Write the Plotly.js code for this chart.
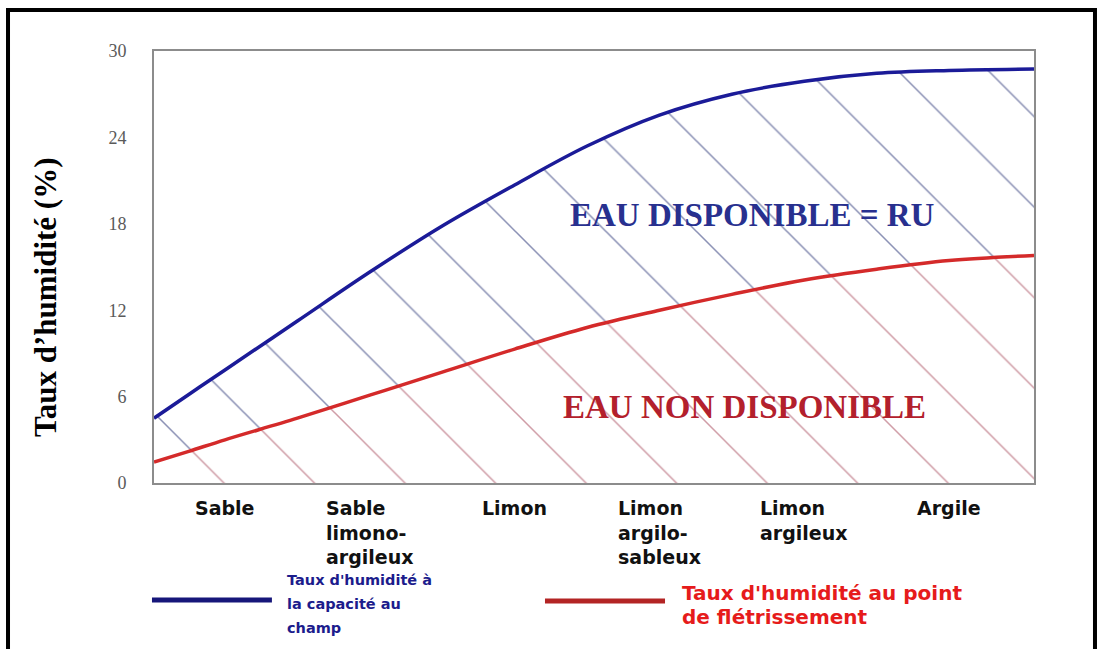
<!DOCTYPE html>
<html><head><meta charset="utf-8">
<script src="https://cdn.plot.ly/plotly-3.0.1.min.js"></script>
<style>html,body{margin:0;padding:0;background:#fff;}#chart{width:1103px;height:649px;}</style>
</head><body><div id="chart"></div>
<script>
// ---- data ----
const soilTypes = ['Sable', 'Sable<br>limono-<br>argileux', 'Limon', 'Limon<br>argilo-<br>sableux', 'Limon<br>argileux', 'Argile'];
const soilPos = [0, 1, 2, 3, 4, 5];
const xSample = [-0.49, -0.25, 0, 0.5, 1, 1.5, 2, 2.5, 3, 3.5, 4, 4.5, 5, 5.586];
const capaciteAuChamp = [4.5, 6.15, 7.85, 11.25, 14.65, 17.85, 20.7, 23.4, 25.55, 27.0, 27.9, 28.45, 28.65, 28.75];
const pointFletrissement = [1.46, 2.2, 3.0, 4.5, 6.1, 7.7, 9.3, 10.8, 12.0, 13.1, 14.1, 14.85, 15.45, 15.8];
const yTicks = [0, 6, 12, 18, 24, 30];
const yTitle = 'Taux d\u2019humidité (%)';
const legendBlue = ['Taux d\'humidité à', 'la capacité au', 'champ'];
const legendRed = ['Taux d\'humidité au point', 'de flétrissement'];
const zoneLabels = ['EAU DISPONIBLE = RU', 'EAU NON DISPONIBLE'];

const blue = '#1b1b98', red = '#d42a2a';
const blueText = '#1c1c8c', redText = '#e61b1b';

// ---- traces ----
const traces = [
  {x: xSample, y: pointFletrissement, mode: 'lines', line: {color: red, width: 3.5, shape: 'spline'},
   fill: 'tozeroy', fillcolor: 'rgba(0,0,0,0)',
   fillpattern: {shape: '\\', size: 64, solidity: 0.024, fgcolor: '#cf9ca6', bgcolor: 'rgba(0,0,0,0)', fillmode: 'replace'},
   hoverinfo: 'skip', showlegend: false},
  {x: xSample, y: capaciteAuChamp, mode: 'lines', line: {color: blue, width: 3.5, shape: 'spline'},
   fill: 'tonexty', fillcolor: 'rgba(0,0,0,0)',
   fillpattern: {shape: '\\', size: 64, solidity: 0.024, fgcolor: '#8a90b4', bgcolor: 'rgba(0,0,0,0)', fillmode: 'replace'},
   hoverinfo: 'skip', showlegend: false}
];

// ---- annotations ----
const ann = [];
soilTypes.forEach((t, i) => ann.push({
  x: soilPos[i], xref: 'x', y: -0.028, yref: 'paper', xanchor: 'center', yanchor: 'top', align: 'left',
  text: t, showarrow: false, font: {family: 'DejaVu Sans', size: 19, color: '#111', weight: 'bold'}
}));
ann.push({x: -0.124, xref: 'paper', y: 0.43, yref: 'paper', textangle: -90, text: yTitle, showarrow: false,
  xanchor: 'center', yanchor: 'middle', font: {family: 'Liberation Serif', size: 31, color: '#000', weight: 'bold'}});
ann.push({x: 3.64, xref: 'x', y: 18.6, yref: 'y', text: zoneLabels[0], showarrow: false,
  font: {family: 'Liberation Serif', size: 33, color: '#28308f', weight: 'bold'}});
ann.push({x: 3.59, xref: 'x', y: 5.25, yref: 'y', text: zoneLabels[1], showarrow: false,
  font: {family: 'Liberation Serif', size: 33, color: '#b3202c', weight: 'bold'}});
const blueY = [-0.2245, -0.2801, -0.3356];
legendBlue.forEach((t, i) => ann.push({x: 0.1489, xref: 'paper', y: blueY[i], yref: 'paper', xanchor: 'left', yanchor: 'middle',
  text: t, showarrow: false, font: {family: 'DejaVu Sans', size: 14.5, color: blueText, weight: 'bold'}}));
const redY = [-0.2546, -0.3102];
legendRed.forEach((t, i) => ann.push({x: 0.5977, xref: 'paper', y: redY[i], yref: 'paper', xanchor: 'left', yanchor: 'middle',
  text: t, showarrow: false, font: {family: 'DejaVu Sans', size: 20, color: redText, weight: 'bold'}}));

// ---- shapes (frame + legend symbols) ----
const shapes = [
  {type: 'rect', xref: 'paper', yref: 'paper', x0: -0.1659, x1: 1.0693, y0: -0.45, y1: 1.0949,
   line: {color: '#000', width: 4}, fillcolor: 'rgba(0,0,0,0)'},
  {type: 'line', xref: 'paper', yref: 'paper', x0: -0.0023, x1: 0.134, y0: -0.2708, y1: -0.2708,
   line: {color: '#16167a', width: 5}},
  {type: 'line', xref: 'paper', yref: 'paper', x0: 0.4443, x1: 0.5807, y0: -0.2731, y1: -0.2731,
   line: {color: '#b32424', width: 5}}
];

const layout = {
  width: 1103, height: 649,
  margin: {l: 154, r: 69, t: 51, b: 166, pad: 0},
  paper_bgcolor: '#fff', plot_bgcolor: '#fff',
  xaxis: {range: [-0.49, 5.586], showgrid: false, zeroline: false, showticklabels: false, ticks: '',
          showline: true, mirror: true, linecolor: '#8c8c8c', linewidth: 2, automargin: false, fixedrange: true},
  yaxis: {range: [0, 30], tickvals: yTicks, ticktext: yTicks.map(String), showgrid: false, zeroline: false, ticks: '',
          ticklabelstandoff: 22, tickfont: {family: 'Liberation Serif', size: 18, color: '#5a5a5a'},
          showline: true, mirror: true, linecolor: '#8c8c8c', linewidth: 2, automargin: false, fixedrange: true},
  annotations: ann, shapes: shapes, showlegend: false
};
Plotly.newPlot('chart', traces, layout, {displayModeBar: false, staticPlot: true});
</script></body></html>
